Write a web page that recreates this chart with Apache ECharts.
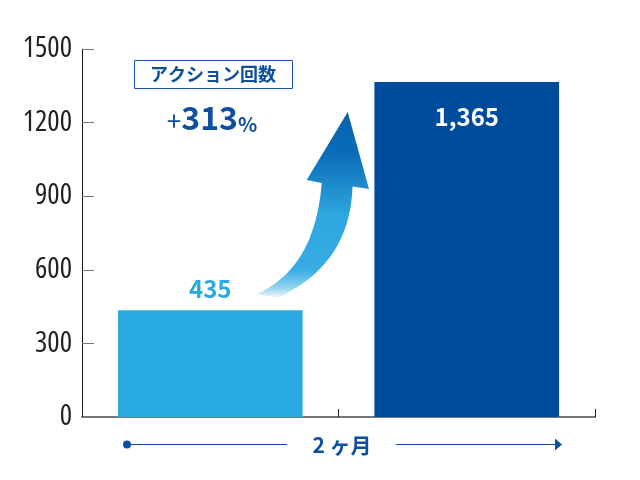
<!DOCTYPE html>
<html><head><meta charset="utf-8">
<script src="https://cdn.jsdelivr.net/npm/echarts@6/dist/echarts.min.js"></script>
<style>html,body{margin:0;padding:0;background:#fff}#c{width:640px;height:480px}</style>
</head><body><div id="c"></div>
<script>
const categories = ['導入前', '導入後'];
const values = [435, 1365];
const barColors = ['#29abe2', '#004b9b'];
const yMin = 0, yMax = 1500, yStep = 300;
const metricLabel = 'アクション回数';
const growthText = ['+', '313', '%'];
const periodLabel = '2 ヶ月';

const chart = echarts.init(document.getElementById('c'));
const blue = '#0d4fa0';
const cjk = '"Noto Sans CJK JP", "Noto Sans", sans-serif';

function quad(p0, c, p1, n) {
  const pts = [];
  for (let i = 0; i <= n; i++) {
    const t = i / n, u = 1 - t;
    pts.push([u * u * p0[0] + 2 * u * t * c[0] + t * t * p1[0], u * u * p0[1] + 2 * u * t * c[1] + t * t * p1[1]]);
  }
  return pts;
}
const arrowPts = [[347.7, 112], [369, 189]]
  .concat(quad([352.5, 186.5], [350, 265], [277, 298], 24))
  .concat(quad([257, 294], [315, 268], [321.7, 183], 24))
  .concat([[306.7, 180]]);

chart.setOption({
  animation: false,
  grid: { left: 82, right: 45, top: 49, bottom: 63 },
  xAxis: {
    type: 'category',
    data: categories,
    axisLine: { lineStyle: { color: '#777', width: 2 } },
    axisTick: { show: true, inside: true, length: 8, lineStyle: { color: '#222' } },
    axisLabel: { show: false }
  },
  yAxis: {
    type: 'value',
    min: yMin, max: yMax, interval: yStep,
    splitLine: { show: false },
    axisLine: { show: true, lineStyle: { color: '#111', width: 1 } },
    axisTick: { show: true, inside: true, length: 12, lineStyle: { color: '#777', width: 1 } },
    axisLabel: {
      margin: 10, fontSize: 29, color: '#222',
      fontStyle: 'normal', fontWeight: 'condensed',
      fontFamily: '"Open Sans", sans-serif',
      formatter: v => String(v)
    }
  },
  series: [{
    type: 'bar',
    barWidth: '72%',
    data: values.map((v, i) => ({
      value: v,
      itemStyle: { color: barColors[i] },
      label: i === 0
        ? { show: true, position: 'top', distance: 9, color: '#29abe2', fontSize: 24, fontWeight: 'bold', fontFamily: cjk }
        : { show: true, position: 'insideTop', distance: 23, color: '#fff', fontSize: 24, fontWeight: 'bold', fontFamily: cjk }
    })),
    label: {
      formatter: p => p.value.toLocaleString('en-US')
    }
  }],
  graphic: [
    { type: 'rect', shape: { x: 134.5, y: 60.5, width: 158, height: 28 }, style: { fill: '#fff', stroke: '#1a56a8', lineWidth: 1 } },
    { type: 'text', x: 213, y: 74.5, style: { text: metricLabel, fill: blue, fontSize: 18, fontWeight: 'bold', fontFamily: cjk, align: 'center', verticalAlign: 'middle' } },
    { type: 'text', x: 212, y: 118, style: {
        text: '{a|' + growthText[0] + '}{b|' + growthText[1] + '}{c|' + growthText[2] + '}',
        align: 'center', verticalAlign: 'middle',
        rich: {
          a: { fontSize: 26, fill: blue, color: blue, fontFamily: cjk, fontWeight: 'normal', verticalAlign: 'bottom' },
          b: { fontSize: 32, fill: blue, color: blue, fontFamily: cjk, fontWeight: 'bold', verticalAlign: 'bottom' },
          c: { fontSize: 20, fill: blue, color: blue, fontFamily: cjk, fontWeight: 'bold', verticalAlign: 'bottom' }
        } } },
    { type: 'polygon', shape: { points: arrowPts },
      style: { fill: new echarts.graphic.LinearGradient(0, 0, 0, 1, [
        { offset: 0, color: '#0563ad' },
        { offset: 0.22, color: '#0a6cb8' },
        { offset: 0.55, color: '#2ea6de' },
        { offset: 0.85, color: '#37ade2' },
        { offset: 0.94, color: '#8ed0ef' },
        { offset: 1, color: '#f2f9fd' }
      ]) } },
    { type: 'circle', shape: { cx: 127, cy: 444.5, r: 4 }, style: { fill: blue } },
    { type: 'line', shape: { x1: 127, y1: 444.5, x2: 287, y2: 444.5 }, style: { stroke: blue, lineWidth: 1.2 } },
    { type: 'text', x: 342, y: 445, style: { text: periodLabel, fill: blue, fontSize: 21, fontWeight: 'bold', fontFamily: cjk, align: 'center', verticalAlign: 'middle' } },
    { type: 'line', shape: { x1: 396, y1: 444.5, x2: 556, y2: 444.5 }, style: { stroke: blue, lineWidth: 1.2 } },
    { type: 'polygon', shape: { points: [[555, 438.5], [562, 444.5], [555, 450.5]] }, style: { fill: blue } }
  ]
});
</script></body></html>
